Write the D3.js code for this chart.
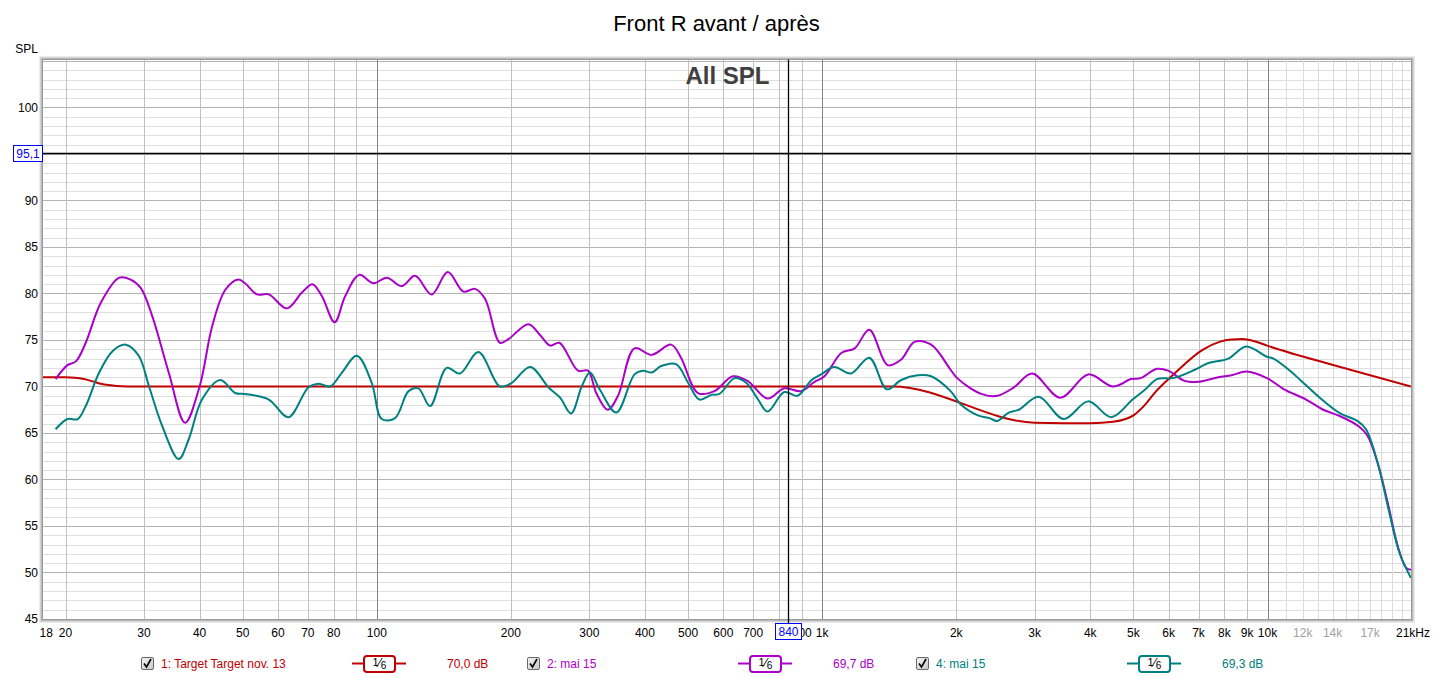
<!DOCTYPE html>
<html>
<head>
<meta charset="utf-8">
<script src="https://cdn.jsdelivr.net/npm/d3@7/dist/d3.min.js"></script>
<style>
body { margin: 0; background: #fff; }
text { font-family: Arial, "Liberation Sans", sans-serif; }
</style>
</head>
<body>
<svg id="chart" width="1433" height="678"></svg>
<script>
// target curve (Target nov. 13)
var targetFreq = [17.8, 20, 21, 22, 23, 24, 25, 26, 27.5, 1400, 1440, 3000, 3500, 4000, 4500, 4800, 5000, 5300, 5600, 6090, 7180, 7800, 8300, 8800, 9300, 9970, 14570, 21000];
var targetDb   = [71.0, 71.0, 70.95, 70.8, 70.55, 70.3, 70.15, 70.05, 70.0, 70.0, 70.0, 66.1, 66.05, 66.05, 66.2, 66.5, 66.9, 68.0, 69.4, 71.1, 74.0, 74.8, 75.05, 75.1, 74.9, 74.4, 72.1, 70.0];

// mai 15 (violet)
var maiAFreq = [19.0, 20.2, 21.1, 22.2, 24.0, 26.4, 28.0, 29.5, 31.3, 34.1, 37.1, 40.0, 42.7, 45.7, 48.9, 50.6, 53.8, 57.2, 62.8, 67.9, 71.7, 75.3, 80.4, 84.9, 91.3, 98.3, 105.3, 113.8, 121.9, 132.8, 144.3, 156.5, 166.2, 175.1, 189, 197.5, 219, 232, 245, 257, 283, 298, 311, 330, 348, 379, 414, 458, 482, 526, 573, 630, 680, 754, 822, 897, 961, 1012, 1104, 1183, 1276, 1403, 1505, 1612, 1757, 1943, 2010, 2276, 2474, 2694, 2962, 3426, 3958, 4497, 4936, 5190, 5647, 5985, 6517, 6986, 7758, 8304, 8957, 9972, 10890, 12210, 13340, 14570, 16050, 16770, 17670, 18620, 19620, 20480, 21000];
var maiADb   = [70.8, 72.3, 72.7, 74.7, 79.0, 81.7, 81.5, 80.6, 77.6, 71.5, 66.1, 70.0, 76.5, 80.4, 81.5, 81.1, 79.9, 79.9, 78.4, 80.1, 81.0, 79.7, 76.9, 79.7, 82.0, 81.1, 81.7, 80.8, 81.9, 79.9, 82.3, 80.2, 80.5, 79.4, 74.7, 75.1, 76.7, 75.6, 74.4, 74.7, 71.7, 71.7, 69.3, 67.5, 69.0, 74.1, 73.4, 74.5, 73.1, 69.3, 69.5, 71.1, 70.6, 68.7, 69.8, 69.5, 70.5, 71.1, 73.6, 74.1, 76.1, 72.3, 72.9, 74.8, 74.5, 71.8, 70.9, 69.2, 69.0, 69.9, 71.4, 68.8, 71.3, 70.0, 70.8, 70.9, 71.9, 71.7, 70.6, 70.5, 71.0, 71.2, 71.6, 70.9, 69.7, 68.6, 67.5, 66.8, 65.7, 64.7, 61.8, 57.5, 52.8, 50.5, 50.3];

// mai 15 (teal)
var maiBFreq = [19.0, 20.2, 21.3, 22.2, 23.8, 25.5, 27.3, 29.2, 30.8, 33.0, 35.9, 37.8, 40.5, 44.5, 48.1, 50.6, 57.2, 63.3, 70.2, 74.0, 78.6, 83.5, 90.2, 97.4, 102.6, 109.9, 117.8, 124, 131.7, 143.5, 153.7, 169.1, 189, 201, 221, 243, 258, 273, 288.5, 301, 316.5, 345, 379, 396, 414, 435, 470, 500, 530, 564, 588, 636, 675, 718, 754, 822, 880, 947, 995, 1064, 1161, 1276, 1397, 1505, 1638, 1757, 1943, 2045, 2237, 2375, 2474, 2624, 2763, 3063, 3485, 3958, 4459, 4977, 5322, 5647, 6140, 6866, 7344, 8162, 8957, 9972, 10320, 11230, 11910, 13100, 14570, 15910, 16640, 17670, 18780, 19790, 21000];
var maiBDb   = [65.4, 66.5, 66.5, 67.9, 71.5, 73.8, 74.5, 73.3, 70.0, 65.7, 62.2, 64.3, 68.6, 70.7, 69.3, 69.2, 68.6, 66.7, 69.9, 70.3, 70.0, 71.5, 73.3, 70.4, 66.5, 66.6, 69.5, 69.8, 67.9, 72.0, 71.4, 73.7, 70.0, 70.4, 72.1, 69.9, 68.8, 67.1, 70.0, 71.5, 69.7, 67.2, 71.3, 71.7, 71.5, 72.2, 72.4, 70.4, 68.6, 69.1, 69.2, 70.9, 70.4, 68.6, 67.3, 69.4, 69.0, 70.7, 71.3, 72.1, 71.4, 73.1, 69.7, 70.7, 71.2, 71.1, 69.5, 68.1, 66.9, 66.6, 66.3, 67.2, 67.5, 68.9, 66.5, 68.4, 66.7, 68.6, 69.7, 70.8, 70.9, 71.8, 72.5, 73.0, 74.3, 73.2, 73.0, 71.7, 70.6, 68.8, 67.1, 66.3, 65.4, 61.8, 56.4, 52.1, 49.4];

// axes
var yTicks = [45, 50, 55, 60, 65, 70, 75, 80, 85, 90, 100];
// 800 sits under the cursor box, so it has no label
var xTickVals = [18, 20, 30, 40, 50, 60, 70, 80, 100, 200, 300, 400, 500, 600, 700, 900, 1000, 2000, 3000, 4000, 5000, 6000, 7000, 8000, 9000, 10000, 12000, 14000, 17000];
var xTickLabels = ["18", "20", "30", "40", "50", "60", "70", "80", "100", "200", "300", "400", "500", "600", "700", "900", "1k", "2k", "3k", "4k", "5k", "6k", "7k", "8k", "9k", "10k", "12k", "14k", "17k"];
var xGrid = [20, 30, 40, 50, 60, 70, 80, 90, 100, 200, 300, 400, 500, 600, 700, 800, 900, 1000, 2000, 3000, 4000, 5000, 6000, 7000, 8000, 9000, 10000, 11000, 12000, 13000, 14000, 15000, 16000, 17000, 18000, 19000, 20000];

// legend
var legendNames = ["1: Target Target nov. 13", "2: mai 15", "4: mai 15"];
var legendLevels = ["70,0 dB", "69,7 dB", "69,3 dB"];
var seriesColors = ["#c00000", "#aa00c8", "#008080"];

var cursorFreq = 840;
var cursorDb = 95.1;

var plotL = 43, plotR = 1411, plotT = 59.5, plotB = 619;

var svg = d3.select("#chart");

var x = d3.scaleLog().domain([17.8, 21000]).range([plotL, plotR]);
var y = d3.scaleLinear().domain([45, 105.16]).range([plotB, plotT]);

function px(v) { return Math.round(v) + 0.5; }

// title
svg.append("text")
  .attr("x", 716.5).attr("y", 31)
  .attr("text-anchor", "middle")
  .attr("font-size", "22px")
  .attr("fill", "#000")
  .text("Front R avant / après");

// plot background
svg.append("rect")
  .attr("x", plotL).attr("y", plotT)
  .attr("width", plotR - plotL).attr("height", plotB - plotT)
  .attr("fill", "#fff");

var grid = svg.append("g");

// horizontal grid, 1 dB steps
grid.selectAll("line.hmin")
  .data(d3.range(46, 106))
  .enter().append("line")
  .attr("x1", plotL).attr("x2", plotR)
  .attr("y1", function(d) { return px(y(d)); })
  .attr("y2", function(d) { return px(y(d)); })
  .attr("stroke", function(d) { return d % 5 == 0 ? "#b4b4b4" : "#dedede"; })
  .attr("stroke-width", 1);

// vertical grid
grid.selectAll("line.v")
  .data(xGrid)
  .enter().append("line")
  .attr("x1", function(d) { return px(x(d)); })
  .attr("x2", function(d) { return px(x(d)); })
  .attr("y1", plotT).attr("y2", plotB)
  .attr("stroke", function(d) {
    if (d == 100 || d == 1000 || d == 10000) return "#858585";
    if (d > 10000) return "#dcdcdc";
    return "#c0c0c0";
  })
  .attr("stroke-width", 1);

// frame with a soft shadow
var shades = ["#9a9a9a", "#b8b8b8", "#d4d4d4", "#ececec"];
shades.forEach(function(c, i) {
  svg.append("rect")
    .attr("x", plotL - 0.5 - i).attr("y", plotT - i)
    .attr("width", plotR - plotL + 1 + 2 * i).attr("height", plotB - plotT + 0.5 + 2 * i)
    .attr("fill", "none")
    .attr("stroke", c)
    .attr("stroke-width", 1);
});

// "All SPL"
svg.append("text")
  .attr("x", 727.5).attr("y", 84)
  .attr("text-anchor", "middle")
  .attr("font-size", "24px")
  .attr("font-weight", "bold")
  .attr("fill", "#404040")
  .text("All SPL");

// curves
svg.append("clipPath").attr("id", "plotclip")
  .append("rect")
  .attr("x", plotL).attr("y", plotT)
  .attr("width", plotR - plotL).attr("height", plotB - plotT);

var smooth = d3.line()
  .x(function(d) { return x(d[0]); })
  .y(function(d) { return y(d[1]); })
  .curve(d3.curveCatmullRom.alpha(0.5));

var mono = d3.line()
  .x(function(d) { return x(d[0]); })
  .y(function(d) { return y(d[1]); })
  .curve(d3.curveMonotoneX);

var curves = svg.append("g").attr("clip-path", "url(#plotclip)");

curves.append("path")
  .datum(d3.zip(targetFreq, targetDb))
  .attr("d", mono)
  .attr("fill", "none")
  .attr("stroke", seriesColors[0])
  .attr("stroke-width", 2);

curves.append("path")
  .datum(d3.zip(maiAFreq, maiADb))
  .attr("d", smooth)
  .attr("fill", "none")
  .attr("stroke", seriesColors[1])
  .attr("stroke-width", 2);

curves.append("path")
  .datum(d3.zip(maiBFreq, maiBDb))
  .attr("d", smooth)
  .attr("fill", "none")
  .attr("stroke", seriesColors[2])
  .attr("stroke-width", 2);

// y axis labels
svg.append("text")
  .attr("x", 38).attr("y", 53)
  .attr("text-anchor", "end")
  .attr("font-size", "12px")
  .text("SPL");

svg.selectAll("text.ytick")
  .data(yTicks)
  .enter().append("text")
  .attr("x", 38)
  .attr("y", function(d) { return y(d); })
  .attr("dy", "0.36em")
  .attr("text-anchor", "end")
  .attr("font-size", "12px")
  .attr("fill", "#000")
  .text(function(d) { return d; });

// x axis labels
svg.selectAll("text.xtick")
  .data(xTickVals)
  .enter().append("text")
  .attr("x", function(d, i) { return i == 0 ? x(d) + 1 : x(d); })
  .attr("y", 637)
  .attr("text-anchor", "middle")
  .attr("font-size", "12px")
  .attr("fill", function(d) { return d > 10000 ? "#a0a0a0" : "#000"; })
  .text(function(d, i) { return xTickLabels[i]; });

svg.append("text")
  .attr("x", 1430).attr("y", 637)
  .attr("text-anchor", "end")
  .attr("font-size", "12px")
  .text("21kHz");

// cursor
svg.append("line")
  .attr("x1", plotL).attr("x2", plotR)
  .attr("y1", px(y(cursorDb))).attr("y2", px(y(cursorDb)))
  .attr("stroke", "#000").attr("stroke-width", 1.3);

svg.append("line")
  .attr("x1", px(x(cursorFreq))).attr("x2", px(x(cursorFreq)))
  .attr("y1", plotT).attr("y2", 623)
  .attr("stroke", "#000").attr("stroke-width", 1.3);

svg.append("rect")
  .attr("x", 13.5).attr("y", px(y(cursorDb)) - 8)
  .attr("width", 29).attr("height", 16)
  .attr("fill", "#fff").attr("stroke", "#0000ff");
svg.append("text")
  .attr("x", 28).attr("y", px(y(cursorDb)) + 4.5)
  .attr("text-anchor", "middle")
  .attr("font-size", "12px")
  .attr("fill", "#0000ff")
  .text("95,1");

svg.append("rect")
  .attr("x", px(x(cursorFreq)) - 13).attr("y", 623.5)
  .attr("width", 26).attr("height", 16)
  .attr("fill", "#fff").attr("stroke", "#0000ff");
svg.append("text")
  .attr("x", px(x(cursorFreq))).attr("y", 636)
  .attr("text-anchor", "middle")
  .attr("font-size", "12px")
  .attr("fill", "#0000ff")
  .text(cursorFreq);

// legend
var grad = svg.append("defs").append("linearGradient")
  .attr("id", "cbgrad").attr("x1", 0).attr("y1", 0).attr("x2", 1).attr("y2", 1);
grad.append("stop").attr("offset", "0%").attr("stop-color", "#f4f4f4");
grad.append("stop").attr("offset", "100%").attr("stop-color", "#c8c8c8");

var legendX = [141, 527, 916];

legendNames.forEach(function(name, i) {
  var g = svg.append("g").attr("transform", "translate(" + legendX[i] + ",0)");
  var col = seriesColors[i];

  g.append("rect")
    .attr("x", 0.5).attr("y", 657.5)
    .attr("width", 12).attr("height", 12).attr("rx", 1.5)
    .attr("fill", "url(#cbgrad)")
    .attr("stroke", "#6a6a6a");
  g.append("path")
    .attr("d", "M3,663.5 L5.5,667 L10,659")
    .attr("fill", "none")
    .attr("stroke", "#000")
    .attr("stroke-width", 1.6);

  g.append("text")
    .attr("x", 20).attr("y", 668)
    .attr("font-size", "12px")
    .attr("fill", col)
    .text(name);

  // line symbol with smoothing box
  g.append("line")
    .attr("x1", 211).attr("x2", 265)
    .attr("y1", 663.5).attr("y2", 663.5)
    .attr("stroke", col).attr("stroke-width", 2);
  g.append("rect")
    .attr("x", 223).attr("y", 656)
    .attr("width", 31).attr("height", 16).attr("rx", 3)
    .attr("fill", "#fff")
    .attr("stroke", col).attr("stroke-width", 2);
  var f = g.append("text")
    .attr("x", 238.5).attr("y", 667)
    .attr("text-anchor", "middle")
    .attr("font-size", "12px")
    .attr("fill", "#000");
  f.append("tspan").attr("font-size", "11px").attr("dy", "-1").text("1");
  f.append("tspan").attr("font-size", "13px").attr("dy", "1").text("\u2044");
  f.append("tspan").attr("font-size", "10px").attr("dy", "2").text("6");

  g.append("text")
    .attr("x", 306).attr("y", 668)
    .attr("font-size", "12px")
    .attr("fill", col)
    .text(legendLevels[i]);
});
</script>
</body>
</html>
